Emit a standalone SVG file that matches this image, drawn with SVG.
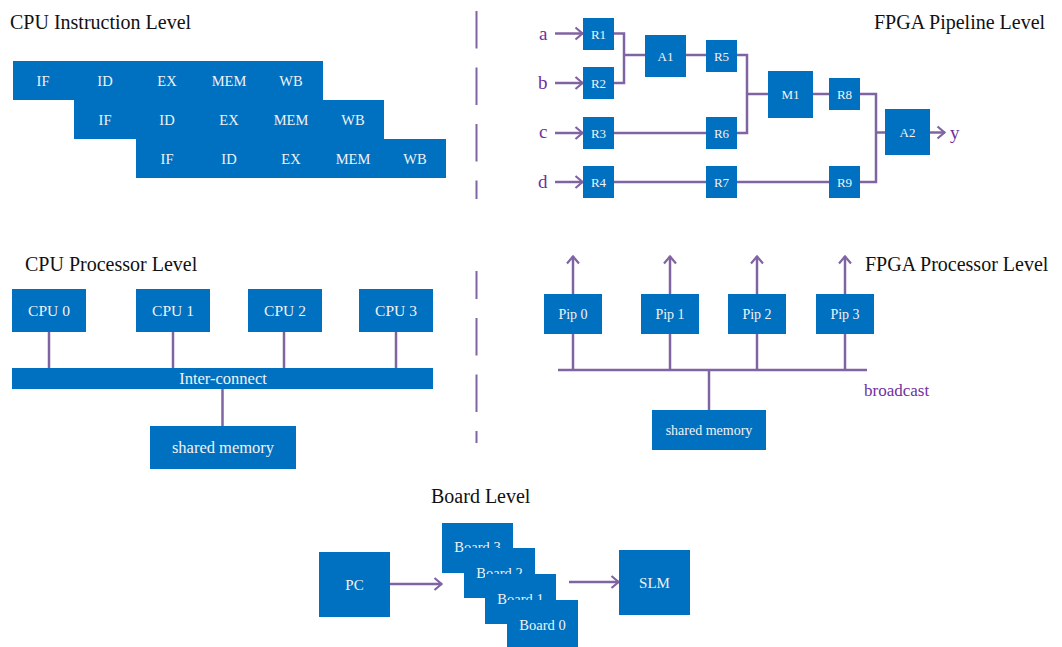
<svg xmlns="http://www.w3.org/2000/svg" width="1062" height="647" viewBox="0 0 1062 647">
<style>
.t{font-family:"Liberation Serif","Times New Roman",serif;fill:#111;font-size:20px}
.b{fill:#0070C0}
.w{font-family:"Liberation Serif","Times New Roman",serif;fill:#F2F2F2;text-anchor:middle}
.ln{stroke:#8064A2;stroke-width:2.5;fill:none}
.lbl{font-family:"Liberation Serif","Times New Roman",serif;fill:#7030A0}
</style>
<defs>
<marker id="ah" markerWidth="12" markerHeight="16" refX="10" refY="8" orient="auto" markerUnits="userSpaceOnUse">
<path d="M2.5,2 L9.5,8 L2.5,14" fill="none" stroke="#8064A2" stroke-width="2.2"/>
</marker>
</defs>
<rect width="1062" height="647" fill="#fff"/>

<!-- titles -->
<text class="t" x="10" y="29">CPU Instruction Level</text>
<text class="t" x="874" y="29">FPGA Pipeline Level</text>
<text class="t" x="25" y="271">CPU Processor Level</text>
<text class="t" x="865" y="271">FPGA Processor Level</text>
<text class="t" x="431" y="503">Board Level</text>

<!-- dividers -->
<path d="M476.5,11 V199" stroke="#8064A2" stroke-width="2" stroke-dasharray="37.5 19"/>
<path d="M476.5,271 V443" stroke="#8064A2" stroke-width="2" stroke-dasharray="37.5 19" stroke-dashoffset="9.5"/>

<!-- CPU instruction level -->
<g id="instr1">
<rect class="b" x="13" y="61" width="310" height="39"/>
<g class="w" font-size="14.5"><text x="43" y="86">IF</text><text x="105" y="86">ID</text><text x="167" y="86">EX</text><text x="229" y="86">MEM</text><text x="291" y="86">WB</text></g>
</g>
<g id="instr2">
<rect class="b" x="74" y="100" width="310" height="39"/>
<g class="w" font-size="14.5"><text x="105" y="125">IF</text><text x="167" y="125">ID</text><text x="229" y="125">EX</text><text x="291" y="125">MEM</text><text x="353" y="125">WB</text></g>
</g>
<g id="instr3">
<rect class="b" x="136" y="139" width="310" height="39"/>
<g class="w" font-size="14.5"><text x="167" y="164">IF</text><text x="229" y="164">ID</text><text x="291" y="164">EX</text><text x="353" y="164">MEM</text><text x="415" y="164">WB</text></g>
</g>

<!-- FPGA pipeline connectors -->
<g id="pipeline-connectors" class="ln">
<path d="M555,33.5 H583" marker-end="url(#ah)"/>
<path d="M555,83 H583" marker-end="url(#ah)"/>
<path d="M555,133 H583" marker-end="url(#ah)"/>
<path d="M555,182 H583" marker-end="url(#ah)"/>
<path d="M614,33.5 H624 V83 H614"/>
<path d="M624,55 H645"/>
<path d="M686,55 H706"/>
<path d="M737,55 H747 V133 H737"/>
<path d="M614,133 H706"/>
<path d="M747,94 H768"/>
<path d="M614,182 H706"/>
<path d="M737,182 H829"/>
<path d="M813,94 H829"/>
<path d="M860,94 H876 V182 H860"/>
<path d="M876,132.5 H885"/>
<path d="M930,132.5 H945" marker-end="url(#ah)"/>
</g>
<g class="lbl" font-size="19">
<text x="539" y="40">a</text>
<text x="538" y="89">b</text>
<text x="539" y="138">c</text>
<text x="538" y="188">d</text>
<text x="950" y="139">y</text>
</g>
<g id="R1"><rect class="b" x="583" y="18" width="31" height="32"/><text class="w" font-size="13" x="598.5" y="39">R1</text></g>
<g id="R2"><rect class="b" x="583" y="67" width="31" height="32"/><text class="w" font-size="13" x="598.5" y="88">R2</text></g>
<g id="R3"><rect class="b" x="583" y="117" width="31" height="32"/><text class="w" font-size="13" x="598.5" y="138">R3</text></g>
<g id="R4"><rect class="b" x="583" y="166" width="31" height="32"/><text class="w" font-size="13" x="598.5" y="187">R4</text></g>
<g id="A1"><rect class="b" x="645" y="35" width="41" height="42"/><text class="w" font-size="13" x="665.5" y="60.5">A1</text></g>
<g id="R5"><rect class="b" x="706" y="40" width="31" height="32"/><text class="w" font-size="13" x="721.5" y="61">R5</text></g>
<g id="R6"><rect class="b" x="706" y="117" width="31" height="32"/><text class="w" font-size="13" x="721.5" y="138">R6</text></g>
<g id="R7"><rect class="b" x="706" y="166" width="31" height="32"/><text class="w" font-size="13" x="721.5" y="187">R7</text></g>
<g id="M1"><rect class="b" x="768" y="71" width="45" height="47"/><text class="w" font-size="13" x="790.5" y="99">M1</text></g>
<g id="R8"><rect class="b" x="829" y="78" width="31" height="32"/><text class="w" font-size="13" x="844.5" y="99">R8</text></g>
<g id="R9"><rect class="b" x="829" y="166" width="31" height="32"/><text class="w" font-size="13" x="844.5" y="187">R9</text></g>
<g id="A2"><rect class="b" x="885" y="109" width="45" height="46"/><text class="w" font-size="13" x="907.5" y="137">A2</text></g>

<!-- CPU processor level -->
<g id="cpu-connectors" class="ln">
<path d="M49,332 V371"/>
<path d="M173,332 V371"/>
<path d="M284,332 V371"/>
<path d="M396,332 V371"/>
<path d="M222.5,389 V426"/>
</g>
<g id="cpu0"><rect class="b" x="12" y="289" width="74" height="43"/><text class="w" font-size="15.5" x="49" y="316">CPU 0</text></g>
<g id="cpu1"><rect class="b" x="136" y="289" width="74" height="43"/><text class="w" font-size="15.5" x="173" y="316">CPU 1</text></g>
<g id="cpu2"><rect class="b" x="248" y="289" width="74" height="43"/><text class="w" font-size="15.5" x="285" y="316">CPU 2</text></g>
<g id="cpu3"><rect class="b" x="359" y="289" width="74" height="43"/><text class="w" font-size="15.5" x="396" y="316">CPU 3</text></g>
<g id="interconnect"><rect class="b" x="12" y="368" width="421" height="21"/><text class="w" font-size="16.5" x="223" y="384">Inter-connect</text></g>
<g id="shared-mem-cpu"><rect class="b" x="150" y="426" width="146" height="43"/><text class="w" font-size="16.5" x="223" y="453">shared memory</text></g>

<!-- FPGA processor level -->
<g id="fpga-proc-connectors" class="ln">
<path d="M573,294 V256" marker-end="url(#ah)"/>
<path d="M670,294 V256" marker-end="url(#ah)"/>
<path d="M757,294 V256" marker-end="url(#ah)"/>
<path d="M845,294 V256" marker-end="url(#ah)"/>
<path d="M573,334 V370"/>
<path d="M670,334 V370"/>
<path d="M757,334 V370"/>
<path d="M845,334 V370"/>
<path d="M558,370 H867"/>
<path d="M709,370 V410"/>
</g>
<g id="pip0"><rect class="b" x="544" y="294" width="58" height="40"/><text class="w" font-size="14" x="573" y="319">Pip 0</text></g>
<g id="pip1"><rect class="b" x="641" y="294" width="58" height="40"/><text class="w" font-size="14" x="670" y="319">Pip 1</text></g>
<g id="pip2"><rect class="b" x="728" y="294" width="58" height="40"/><text class="w" font-size="14" x="757" y="319">Pip 2</text></g>
<g id="pip3"><rect class="b" x="816" y="294" width="58" height="40"/><text class="w" font-size="14" x="845" y="319">Pip 3</text></g>
<g id="shared-mem-fpga"><rect class="b" x="652" y="410" width="114" height="40"/><text class="w" font-size="14" x="709" y="435">shared memory</text></g>
<text class="lbl" font-size="17" x="864" y="396">broadcast</text>

<!-- Board level -->
<g id="board-connectors" class="ln">
<path d="M390,584 H442" marker-end="url(#ah)"/>
<path d="M569,582 H619" marker-end="url(#ah)"/>
</g>
<g id="pc"><rect class="b" x="319" y="552" width="71" height="65"/><text class="w" font-size="15" x="354.5" y="590">PC</text></g>
<g id="board3"><rect class="b" x="442" y="523" width="71" height="50"/><text class="w" font-size="14.5" x="477.5" y="552">Board 3</text></g>
<g id="board2"><rect class="b" x="464" y="548" width="71" height="50"/><text class="w" font-size="14.5" x="499.5" y="578">Board 2</text></g>
<g id="board1"><rect class="b" x="485" y="574" width="71" height="50"/><text class="w" font-size="14.5" x="520.5" y="604">Board 1</text></g>
<g id="board0"><rect class="b" x="507" y="600" width="71" height="50"/><text class="w" font-size="14.5" x="542.5" y="630">Board 0</text></g>
<g id="slm"><rect class="b" x="619" y="550" width="71" height="65"/><text class="w" font-size="15" x="654.5" y="588">SLM</text></g>
</svg>
